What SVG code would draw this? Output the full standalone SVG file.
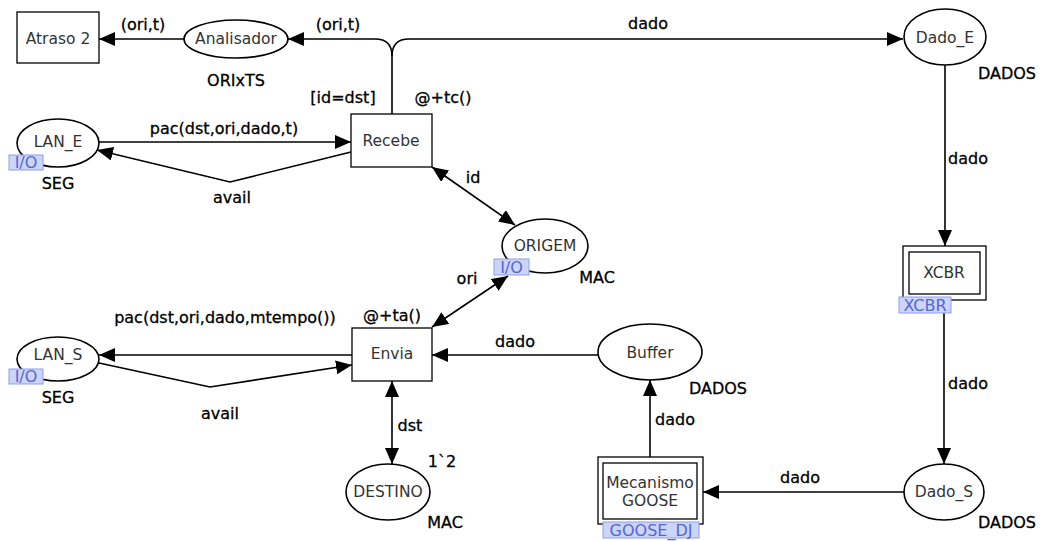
<svg xmlns="http://www.w3.org/2000/svg" width="1041" height="541" viewBox="0 0 1041 541">
  <style>
    .place { fill: #fff; stroke: #000; stroke-width: 1.6; }
    .trans { fill: #fff; stroke: #000; stroke-width: 1.3; }
    .name { font-family: "DejaVu Sans", Verdana, sans-serif; font-size: 15.5px; fill: #333; text-anchor: middle; dominant-baseline: central; }
    .lbl { font-family: "DejaVu Sans", Verdana, sans-serif; font-size: 16px; fill: #000; stroke: #000; stroke-width: 0.3; text-anchor: middle; dominant-baseline: central; }
    .tag rect { fill: #ccd4f7; stroke: #8e9ee9; stroke-width: 1; }
    .tag text { font-family: "DejaVu Sans", Verdana, sans-serif; font-size: 16px; fill: #5567d2; text-anchor: middle; dominant-baseline: central; }
    .arc { fill: none; stroke: #000; stroke-width: 1.6; }
  </style>
  <defs>
    <marker id="head" markerUnits="userSpaceOnUse" markerWidth="17" markerHeight="15" refX="16" refY="7" orient="auto-start-reverse">
      <path d="M0,0 L16,7 L0,14 z" fill="#000"/>
    </marker>
  </defs>
  <rect width="1041" height="541" fill="#fff"/>

  <!-- arcs -->
  <g id="connectors">
    <line class="arc" x1="184" y1="39" x2="99" y2="39" marker-end="url(#head)"/>
    <path class="arc" d="M392,114 V56 Q392,39 375,39 H288" marker-end="url(#head)"/>
    <path class="arc" d="M392,56 Q392,39 409,39 H903" marker-end="url(#head)"/>
    <line class="arc" x1="99" y1="142" x2="351" y2="142" marker-end="url(#head)"/>
    <polyline class="arc" points="351,152 230,182 97,150" marker-end="url(#head)"/>
    <line class="arc" x1="432" y1="167" x2="515" y2="225" marker-start="url(#head)" marker-end="url(#head)"/>
    <line class="arc" x1="508" y1="276" x2="432" y2="327" marker-start="url(#head)" marker-end="url(#head)"/>
    <line class="arc" x1="352" y1="355" x2="99" y2="355" marker-end="url(#head)"/>
    <polyline class="arc" points="99,363 210,387 352,365" marker-end="url(#head)"/>
    <line class="arc" x1="392" y1="381" x2="392" y2="464" marker-start="url(#head)" marker-end="url(#head)"/>
    <line class="arc" x1="598" y1="355" x2="432" y2="355" marker-end="url(#head)"/>
    <line class="arc" x1="650" y1="457" x2="650" y2="380" marker-end="url(#head)"/>
    <line class="arc" x1="904" y1="492" x2="703" y2="492" marker-end="url(#head)"/>
    <line class="arc" x1="945" y1="65" x2="945" y2="246" marker-end="url(#head)"/>
    <line class="arc" x1="944" y1="313" x2="944" y2="464" marker-end="url(#head)"/>

    <text class="lbl" x="143" y="24">(ori,t)</text>
    <text class="lbl" x="338" y="24">(ori,t)</text>
    <text class="lbl" x="648" y="23">dado</text>
    <text class="lbl" x="343" y="97">[id=dst]</text>
    <text class="lbl" x="443" y="97">@+tc()</text>
    <text class="lbl" x="224" y="128">pac(dst,ori,dado,t)</text>
    <text class="lbl" x="232" y="197">avail</text>
    <text class="lbl" x="473" y="177">id</text>
    <text class="lbl" x="467" y="278">ori</text>
    <text class="lbl" x="225" y="317">pac(dst,ori,dado,mtempo())</text>
    <text class="lbl" x="392" y="315">@+ta()</text>
    <text class="lbl" x="220" y="413">avail</text>
    <text class="lbl" x="410" y="425">dst</text>
    <text class="lbl" x="515" y="341">dado</text>
    <text class="lbl" x="675" y="419">dado</text>
    <text class="lbl" x="800" y="477">dado</text>
    <text class="lbl" x="968" y="158">dado</text>
    <text class="lbl" x="968" y="383">dado</text>
  </g>

  <!-- transitions -->
  <g id="atraso2">
    <rect class="trans" x="17" y="12" width="82" height="51"/>
    <text class="name" x="58" y="39">Atraso 2</text>
  </g>
  <g id="recebe">
    <rect class="trans" x="351" y="114" width="81" height="53"/>
    <text class="name" x="391" y="141">Recebe</text>
  </g>
  <g id="envia">
    <rect class="trans" x="352" y="328" width="80" height="53"/>
    <text class="name" x="392" y="354">Envia</text>
  </g>
  <g id="xcbr">
    <rect class="trans" x="903" y="246" width="83" height="54"/>
    <rect class="trans" x="909" y="252" width="71" height="42" stroke-width="1.8"/>
    <text class="name" x="944" y="273">XCBR</text>
    <g class="tag">
      <rect x="899" y="297" width="52" height="16"/>
      <text x="925" y="305">XCBR</text>
    </g>
  </g>
  <g id="mecanismo-goose">
    <rect class="trans" x="598" y="457" width="105" height="67"/>
    <rect class="trans" x="603" y="463" width="94" height="56" stroke-width="1.8"/>
    <text class="name" x="650" y="483">Mecanismo</text>
    <text class="name" x="650" y="501">GOOSE</text>
    <g class="tag">
      <rect x="603" y="522" width="96" height="16"/>
      <text x="651" y="530">GOOSE_DJ</text>
    </g>
  </g>

  <!-- places -->
  <g id="analisador">
    <ellipse class="place" cx="236" cy="39" rx="52" ry="19"/>
    <text class="name" x="236" y="39">Analisador</text>
    <text class="lbl" x="236" y="80">ORIxTS</text>
  </g>
  <g id="dado-e">
    <ellipse class="place" cx="945" cy="37" rx="41" ry="28"/>
    <text class="name" x="945" y="38">Dado_E</text>
    <text class="lbl" x="1007" y="73">DADOS</text>
  </g>
  <g id="lan-e">
    <ellipse class="place" cx="58" cy="143" rx="41" ry="24"/>
    <text class="name" x="58" y="142">LAN_E</text>
    <g class="tag">
      <rect x="9" y="155" width="34" height="15"/>
      <text x="26" y="162.5">I/O</text>
    </g>
    <text class="lbl" x="58" y="183">SEG</text>
  </g>
  <g id="origem">
    <ellipse class="place" cx="545" cy="246" rx="43" ry="27"/>
    <text class="name" x="545" y="246">ORIGEM</text>
    <g class="tag">
      <rect x="494" y="259" width="35" height="16"/>
      <text x="511.5" y="267">I/O</text>
    </g>
    <text class="lbl" x="597" y="277">MAC</text>
  </g>
  <g id="lan-s">
    <ellipse class="place" cx="58" cy="359" rx="41" ry="22"/>
    <text class="name" x="58" y="355">LAN_S</text>
    <g class="tag">
      <rect x="9" y="369" width="34" height="15"/>
      <text x="26" y="376.5">I/O</text>
    </g>
    <text class="lbl" x="58" y="397">SEG</text>
  </g>
  <g id="buffer">
    <ellipse class="place" cx="650" cy="352" rx="52" ry="28"/>
    <text class="name" x="650" y="353">Buffer</text>
    <text class="lbl" x="718" y="388">DADOS</text>
  </g>
  <g id="destino">
    <ellipse class="place" cx="388" cy="492" rx="42" ry="28"/>
    <text class="name" x="388" y="492">DESTINO</text>
    <text class="lbl" x="442" y="461">1`2</text>
    <text class="lbl" x="445" y="522">MAC</text>
  </g>
  <g id="dado-s">
    <ellipse class="place" cx="944" cy="492" rx="40" ry="28"/>
    <text class="name" x="944" y="492">Dado_S</text>
    <text class="lbl" x="1007" y="522">DADOS</text>
  </g>
</svg>
